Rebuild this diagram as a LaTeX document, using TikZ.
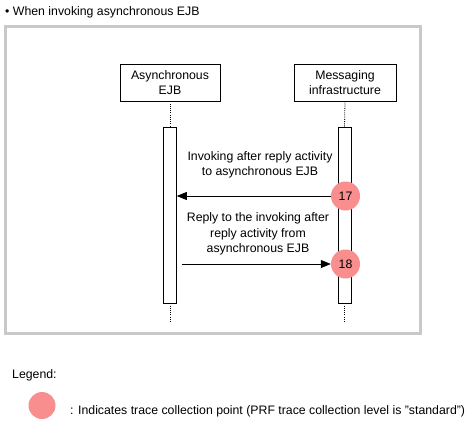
\documentclass[tikz,border=0pt]{standalone}
\usepackage{fontspec}
\setmainfont{Liberation Sans}
\usetikzlibrary{arrows.meta}
\definecolor{frame}{RGB}{200,200,200}
\definecolor{trace}{RGB}{248,142,142}
\begin{document}
\begin{tikzpicture}[x=1pt,y=-1pt,
  txt/.style={font=\fontsize{12.3}{15.5}\selectfont, inner sep=0pt},
  lbl/.style={txt, align=center},
  actor/.style={draw, line width=0.6pt, minimum width=100pt, minimum height=37pt, align=center, txt},
  bar/.style={draw, line width=0.6pt, fill=white, minimum width=13pt, minimum height=176pt, inner sep=0pt},
  life/.style={line width=0.8pt, dash pattern=on 1pt off 1.2pt},
  tp/.style={circle, fill=trace, minimum size=29pt, inner sep=0pt, txt},
  msg/.style={line width=0.6pt, -{Triangle[length=10pt,width=8pt]}}
]
\useasboundingbox (0,0) rectangle (471,423);
\node[txt, anchor=west] (title) at (5,12) {\textbullet\ When invoking asynchronous EJB};
\draw[frame, line width=3pt] (5,26) rectangle (420,333);
\node[actor] (A) at (170,82.5) {Asynchronous\\EJB};
\node[actor, minimum width=102pt] (M) at (345,82.5) {Messaging\\infrastructure};
\node[bar] (Ab) at (170,215) {};
\node[bar] (Mb) at (344.5,215) {};
\coordinate (Ae) at (170,323);
\coordinate (Me) at (344.5,323);
\draw[life] (A.south) -- (Ab.north);
\draw[life] (Ab.south) -- (Ae);
\draw[life] (M.south) -- (Mb.north);
\draw[life] (Mb.south) -- (Me);
\node[tp] (t17) at (345.5,196) {17};
\node[tp] (t18) at (345.5,264) {18};
\coordinate (s2) at (182,264);
\draw[msg] (t17.west) -- (Ab.east |- t17);
\draw[msg] (s2) -- (t18.west);
\node[lbl] (l1) at (260,165) {Invoking after reply activity\\to asynchronous EJB};
\node[lbl] (l2) at (258,234) {Reply to the invoking after\\reply activity from\\asynchronous EJB};
\node[txt, anchor=west] (leg) at (12,375) {Legend:};
\node[tp, minimum size=27pt] (lc) at (42,405.5) {};
\node[txt, anchor=west] (legt) at (70,411) {: Indicates trace collection point (PRF trace collection level is "standard")};
\end{tikzpicture}
\end{document}
